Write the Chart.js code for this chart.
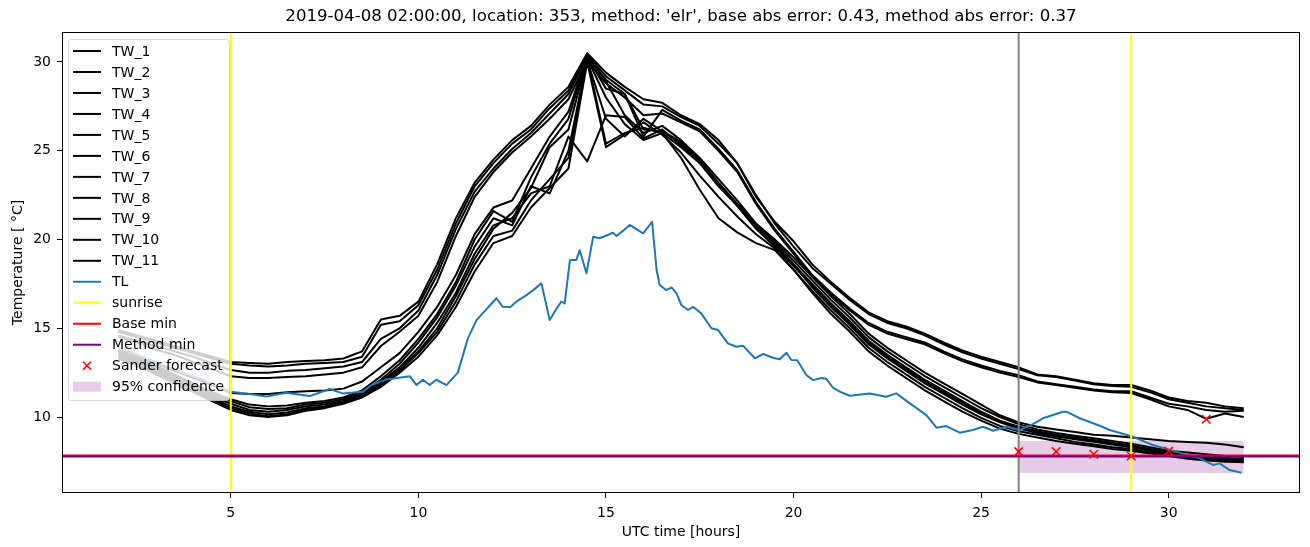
<!DOCTYPE html>
<html>
<head>
<meta charset="utf-8">
<script src="https://cdn.jsdelivr.net/npm/chart.js@4.4.0/dist/chart.umd.min.js"></script>
<style>
  html, body { margin: 0; padding: 0; background: #fff; }
</style>
</head>
<body>
<canvas id="chart" width="1310" height="547"></canvas>
<script>
// half-hourly grid shared by the TW sensors
const hours = [2,2.5,3,3.5,4,4.5,5,5.5,6,6.5,7,7.5,8,8.5,9,9.5,10,10.5,11,11.5,12,12.5,13,13.5,14,14.5,15,15.5,16,16.5,17,17.5,18,18.5,19,19.5,20,20.5,21,21.5,22,22.5,23,23.5,24,24.5,25,25.5,26,26.5,27,27.5,28,28.5,29,29.5,30,30.5,31,31.5,32];

const tw1 = [14.9,14.6,14.3,14.0,13.7,13.4,13.1,13.05,13.0,13.1,13.15,13.2,13.3,13.7,15.5,15.7,16.5,18.6,21.2,23.2,24.5,25.6,26.4,27.6,28.6,30.5,29.4,28.6,27.9,27.7,27.0,26.5,25.6,24.3,22.4,21.0,19.9,18.6,17.6,16.7,15.9,15.4,15.1,14.7,14.2,13.75,13.4,13.1,12.8,12.4,12.3,12.1,11.9,11.8,11.8,11.5,11.1,10.9,10.8,10.6,10.5];
const tw2 = [14.8,14.5,14.2,13.9,13.6,13.3,13.0,12.9,12.85,12.9,13.0,13.05,13.1,13.4,15.2,15.4,16.3,18.3,20.9,23.0,24.3,25.4,26.2,27.4,28.4,30.4,29.2,28.4,27.6,27.5,26.9,26.4,25.4,24.3,22.5,20.9,19.6,18.4,17.5,16.6,15.8,15.3,15.0,14.6,14.1,13.65,13.3,13.0,12.7,12.35,12.25,12.05,11.85,11.75,11.7,11.4,11.0,10.8,10.6,10.5,10.4];
const tw3 = [14.6,14.3,14.0,13.7,13.4,13.0,12.65,12.5,12.5,12.6,12.65,12.75,12.85,13.1,14.4,15.0,16.0,18.0,20.6,22.7,24.0,25.1,26.0,27.1,28.2,30.3,29.0,28.2,25.8,27.3,26.7,26.2,25.1,23.9,22.1,20.6,19.3,18.0,17.0,16.1,15.3,14.8,14.5,14.2,13.7,13.25,12.9,12.6,12.35,12.0,11.85,11.7,11.55,11.45,11.45,11.1,10.75,10.6,10.4,10.3,10.35];
const tw4 = [14.5,14.2,13.8,13.5,13.1,12.7,12.3,12.2,12.2,12.25,12.3,12.4,12.5,12.8,14.0,14.8,15.7,17.6,20.2,22.4,23.8,24.9,25.8,26.8,27.9,30.1,28.8,28.0,27.0,27.1,26.6,26.1,25.0,23.8,22.0,20.5,19.2,17.9,16.9,16.0,15.2,14.7,14.4,14.1,13.6,13.15,12.8,12.5,12.25,11.95,11.8,11.65,11.5,11.4,11.35,11.0,10.6,10.4,9.9,10.2,10.0];
const tw5 = [13.9,13.5,13.0,12.6,12.2,11.8,11.35,11.3,11.3,11.4,11.45,11.5,11.6,12.0,12.8,13.6,14.8,16.2,18.0,20.3,21.8,22.2,24.0,25.8,27.2,30.4,28.9,27.0,26.0,26.4,25.6,24.6,23.4,22.2,20.9,20.0,19.0,17.9,16.8,15.8,14.7,13.9,13.2,12.5,11.9,11.3,10.7,10.1,9.7,9.45,9.3,9.15,9.0,8.95,8.85,8.75,8.65,8.6,8.55,8.45,8.3];
const tw6 = [13.8,13.4,12.9,12.4,11.9,11.4,11.0,10.7,10.6,10.65,10.8,10.9,11.1,11.5,12.3,13.2,14.4,15.8,17.6,20.0,21.6,21.0,23.5,25.4,26.8,30.3,28.5,28.2,26.2,26.1,25.4,24.5,23.2,22.0,20.8,19.9,18.8,17.7,16.6,15.6,14.5,13.7,13.0,12.3,11.7,11.1,10.5,10.0,9.6,9.3,9.1,8.95,8.8,8.65,8.5,8.3,8.1,8.0,7.9,7.8,7.75];
const tw7 = [13.7,13.3,12.8,12.3,11.8,11.3,10.9,10.55,10.45,10.5,10.7,10.8,11.0,11.4,12.1,13.0,14.2,15.6,17.4,19.6,21.2,20.8,23.0,22.6,25.0,30.2,28.0,26.5,25.6,26.0,25.2,24.3,23.0,21.9,20.7,19.8,18.6,17.5,16.4,15.4,14.3,13.5,12.8,12.1,11.5,10.9,10.3,9.8,9.45,9.2,9.0,8.85,8.7,8.55,8.4,8.2,8.0,7.85,7.75,7.7,7.6];
const tw8 = [13.6,13.2,12.7,12.2,11.7,11.2,10.75,10.4,10.3,10.4,10.6,10.7,10.9,11.3,12.0,12.8,13.9,15.3,17.0,19.2,20.8,21.2,22.6,23.0,25.8,24.4,27.0,26.9,25.7,26.2,25.3,24.4,23.1,21.9,20.6,19.6,18.5,17.4,16.3,15.3,14.2,13.4,12.7,12.0,11.4,10.8,10.2,9.75,9.4,9.15,8.95,8.8,8.65,8.5,8.35,8.15,7.95,7.8,7.7,7.6,7.55];
const tw9 = [13.5,13.1,12.6,12.1,11.6,11.1,10.6,10.3,10.15,10.25,10.5,10.6,10.85,11.2,11.9,12.7,13.7,15.0,16.8,18.9,20.6,21.5,22.9,25.2,26.2,30.2,25.4,26.0,26.3,26.0,24.6,22.8,21.2,20.4,19.8,19.4,18.3,17.1,16.0,15.0,13.9,13.1,12.4,11.7,11.1,10.5,9.95,9.5,9.2,9.0,8.8,8.6,8.45,8.3,8.2,8.0,7.85,7.7,7.6,7.5,7.5];
const tw10 = [13.4,13.0,12.5,12.0,11.5,11.0,10.5,10.2,10.05,10.15,10.45,10.55,10.8,11.15,11.8,12.6,13.6,14.8,16.5,18.6,20.2,20.5,22.2,23.4,24.6,30.1,26.8,25.8,26.8,26.1,25.5,24.5,23.1,22.0,20.8,19.7,18.6,17.3,16.2,15.2,14.1,13.3,12.6,11.9,11.3,10.7,10.15,9.7,9.35,9.1,8.9,8.75,8.6,8.45,8.3,8.1,7.9,7.75,7.65,7.6,7.65];
const tw11 = [13.3,12.9,12.4,11.9,11.4,10.9,10.4,10.1,10.0,10.1,10.35,10.5,10.75,11.1,11.7,12.5,13.4,14.6,16.2,18.2,19.8,20.2,21.8,22.9,24.0,30.0,25.2,25.9,26.6,25.9,24.9,23.6,22.4,21.3,20.3,19.5,18.3,17.0,15.8,14.8,13.7,12.9,12.2,11.5,10.9,10.3,9.8,9.35,9.05,8.85,8.65,8.5,8.35,8.2,8.1,7.95,7.8,7.65,7.55,7.5,7.45];

// TL read at its own (uneven) times
const tlHours = [2,2.5,3,3.5,4,4.5,5,5.5,5.95,6.48,7.1,7.64,7.98,8.52,8.75,9.15,9.77,9.95,10.12,10.3,10.48,10.75,11.05,11.32,11.55,12.08,12.25,12.45,12.61,12.88,13.06,13.28,13.5,13.68,13.81,13.9,14.04,14.21,14.3,14.48,14.66,14.83,15.19,15.28,15.46,15.63,15.99,16.23,16.35,16.43,16.61,16.75,16.88,17.01,17.19,17.32,17.54,17.81,17.99,18.25,18.48,18.65,18.97,19.19,19.45,19.63,19.81,19.94,20.1,20.34,20.52,20.75,20.88,21.05,21.23,21.5,22.03,22.47,22.74,23.1,23.54,23.81,24.07,24.43,24.78,25.05,25.32,25.67,26.03,26.38,26.65,27.18,27.27,27.63,28.16,28.43,29.05,29.58,30.2,30.83,31.18,31.36,31.62,31.94];
const tlTemp = [13.9,13.5,13.1,12.7,12.3,11.9,11.43,11.3,11.15,11.37,11.18,11.58,11.33,11.43,11.8,12.12,12.3,11.8,12.1,11.8,12.1,11.8,12.5,14.43,15.46,16.69,16.21,16.2,16.5,16.87,17.15,17.53,15.46,16.1,16.5,16.4,18.85,18.85,19.4,18.1,20.16,20.07,20.38,20.2,20.5,20.82,20.35,21.0,18.28,17.44,17.15,17.3,16.97,16.31,16.03,16.21,15.84,15.0,14.9,14.15,13.96,14.02,13.31,13.55,13.34,13.25,13.62,13.21,13.2,12.37,12.08,12.2,12.14,11.65,11.43,11.2,11.33,11.14,11.33,10.77,10.11,9.4,9.49,9.12,9.27,9.45,9.23,9.45,9.27,9.6,9.93,10.3,10.3,9.93,9.51,9.27,8.89,8.42,8.05,7.67,7.3,7.39,7.01,6.86];

const sunriseHours = [5, 29];
const forecastHour = 26;
const baseMin = 7.83;
const methodMin = 7.78;
const sanderHours = [26, 27, 28, 29, 30, 31];
const sanderTemp = [8.05, 8.05, 7.9, 7.8, 8.08, 9.87];
const confHours = [26, 32];
const confLow = [6.85, 6.85];
const confHigh = [8.65, 8.65];

const twNames = ['TW_1','TW_2','TW_3','TW_4','TW_5','TW_6','TW_7','TW_8','TW_9','TW_10','TW_11'];
const twSeries = [tw1, tw2, tw3, tw4, tw5, tw6, tw7, tw8, tw9, tw10, tw11];
const titleText = "2019-04-08 02:00:00, location: 353, method: 'elr', base abs error: 0.43, method abs error: 0.37";

const FONT = '"DejaVu Sans", sans-serif';
Chart.defaults.font.family = FONT;
Chart.defaults.color = '#000';

function pts(xs, ys) { return xs.map((x, i) => ({x: x, y: ys[i]})); }
function lineDs(label, data, color, width, order) {
  return { label, data, borderColor: color, backgroundColor: color, borderWidth: width,
           pointRadius: 0, tension: 0, fill: false, order, borderJoinStyle: 'round' };
}

const datasets = [];
twSeries.forEach((s, i) => datasets.push(lineDs(twNames[i], pts(hours, s), '#000', 2, 20)));
datasets.push(lineDs('TL', pts(tlHours, tlTemp), '#1f77b4', 2, 19));
sunriseHours.forEach(h => datasets.push(lineDs('sunrise', [{x: h, y: -50}, {x: h, y: 100}], '#ffff00', 2, 18)));
datasets.push(lineDs('forecast', [{x: forecastHour, y: -50}, {x: forecastHour, y: 100}], '#808080', 2, 18));
datasets.push(lineDs('Base min', [{x: -10, y: baseMin}, {x: 50, y: baseMin}], '#ff0000', 2, 17));
datasets.push(lineDs('Method min', [{x: -10, y: methodMin}, {x: 50, y: methodMin}], '#800080', 2, 16));
datasets.push({ label: 'conf low', data: pts(confHours, confLow), borderWidth: 0, pointRadius: 0,
                borderColor: 'rgba(0,0,0,0)', fill: false, order: 21 });
datasets.push({ label: '95% confidence', data: pts(confHours, confHigh), borderWidth: 0, pointRadius: 0,
                borderColor: 'rgba(0,0,0,0)', backgroundColor: 'rgba(128,0,128,0.2)', fill: '-1', order: 21 });
datasets.push({ label: 'Sander forecast', data: pts(sanderHours, sanderTemp), showLine: false,
                pointStyle: 'crossRot', pointRadius: 6, borderColor: '#ff0000', borderWidth: 1.5, order: 15 });

const legendItems = twNames.map(n => ({label: n, kind: 'line', color: '#000'})).concat([
  {label: 'TL', kind: 'line', color: '#1f77b4'},
  {label: 'sunrise', kind: 'line', color: '#ffff00'},
  {label: 'Base min', kind: 'line', color: '#ff0000'},
  {label: 'Method min', kind: 'line', color: '#800080'},
  {label: 'Sander forecast', kind: 'cross', color: '#ff0000'},
  {label: '95% confidence', kind: 'patch', color: 'rgba(128,0,128,0.2)'}
]);

// axes box + title centred over the plot area, like matplotlib
const framePlugin = {
  id: 'frame',
  afterDatasetsDraw(chart) {
    const a = chart.chartArea, ctx = chart.ctx;
    ctx.save();
    ctx.strokeStyle = '#000';
    ctx.lineWidth = 1;
    ctx.strokeRect(a.left + 0.5, a.top + 0.5, a.right - a.left - 1, a.bottom - a.top - 1);
    ctx.font = '16.6px ' + FONT;
    ctx.fillStyle = '#000';
    ctx.textAlign = 'center';
    ctx.textBaseline = 'middle';
    ctx.fillText(titleText, (a.left + a.right) / 2, 17);
    ctx.restore();
  }
};

const legendPlugin = {
  id: 'boxLegend',
  afterDraw(chart) {
    const ctx = chart.ctx, a = chart.chartArea;
    const x0 = a.left + 6, y0 = a.top + 7, w = 161, h = 361, rowH = 20.98;
    ctx.save();
    ctx.beginPath();
    ctx.roundRect(x0 + 0.5, y0 + 0.5, w, h, 3);
    ctx.fillStyle = 'rgba(255,255,255,0.8)';
    ctx.fill();
    ctx.strokeStyle = 'rgba(204,204,204,0.8)';
    ctx.lineWidth = 1;
    ctx.stroke();
    ctx.font = '14px ' + FONT;
    ctx.textBaseline = 'middle';
    legendItems.forEach((it, i) => {
      const cy = y0 + 12 + i * rowH;
      const lx = x0 + 5, rx = x0 + 33;
      if (it.kind === 'line') {
        ctx.strokeStyle = it.color; ctx.lineWidth = 2;
        ctx.beginPath(); ctx.moveTo(lx, cy); ctx.lineTo(rx, cy); ctx.stroke();
      } else if (it.kind === 'cross') {
        const cx = (lx + rx) / 2, r = 4;
        ctx.strokeStyle = it.color; ctx.lineWidth = 1.5;
        ctx.beginPath();
        ctx.moveTo(cx - r, cy - r); ctx.lineTo(cx + r, cy + r);
        ctx.moveTo(cx + r, cy - r); ctx.lineTo(cx - r, cy + r);
        ctx.stroke();
      } else {
        ctx.fillStyle = it.color;
        ctx.fillRect(lx, cy - 5, rx - lx, 10);
      }
      ctx.fillStyle = '#000';
      ctx.fillText(it.label, x0 + 44, cy + 1);
    });
    ctx.restore();
  }
};

new Chart(document.getElementById('chart'), {
  type: 'line',
  data: { datasets },
  plugins: [framePlugin, legendPlugin],
  options: {
    responsive: false,
    animation: false,
    layout: { padding: { left: 0, right: 10, top: 32, bottom: 0 } },
    plugins: {
      legend: { display: false },
      tooltip: { enabled: false },
      title: { display: false }
    },
    scales: {
      x: {
        type: 'linear', min: 0.5, max: 33.5,
        ticks: { stepSize: 5, includeBounds: false, maxRotation: 0, color: '#000', padding: 7,
                 font: { size: 14, family: FONT } },
        grid: { display: true, drawOnChartArea: false, drawTicks: true, tickLength: 5, color: '#000', lineWidth: 1 },
        border: { display: false },
        title: { display: true, text: 'UTC time [hours]', color: '#000', font: { size: 14, family: FONT },
                 padding: { top: 4, bottom: 6 } },
        afterFit(s) { s.height = 54; }
      },
      y: {
        type: 'linear', min: 5.72, max: 31.69,
        ticks: { stepSize: 5, includeBounds: false, color: '#000', padding: 6,
                 font: { size: 14, family: FONT } },
        grid: { display: true, drawOnChartArea: false, drawTicks: true, tickLength: 5, color: '#000', lineWidth: 1 },
        border: { display: false },
        title: { display: true, text: 'Temperature [ °C]', color: '#000', font: { size: 14, family: FONT },
                 padding: { top: 10, bottom: 4 } },
        afterFit(s) { s.width = 62; }
      }
    }
  }
});
</script>
</body>
</html>
